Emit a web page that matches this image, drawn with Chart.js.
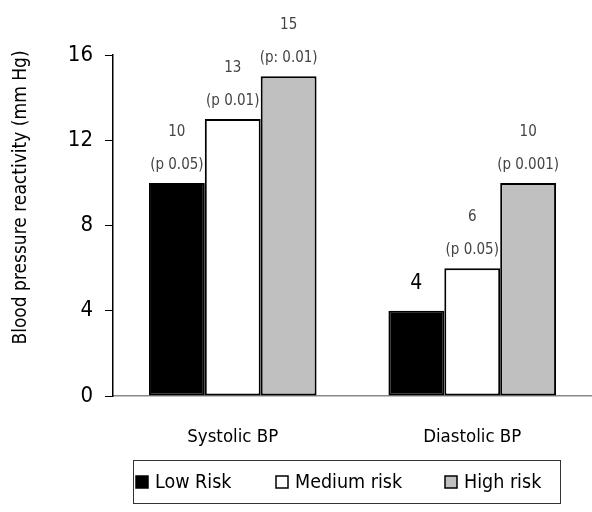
<!DOCTYPE html>
<html>
<head>
<meta charset="utf-8">
<script src="https://cdn.jsdelivr.net/npm/chart.js@4"></script>
<style>
  html, body { margin: 0; padding: 0; background: #fff; }
  #wrap { width: 592px; height: 512px; }
</style>
</head>
<body>
<div id="wrap"><canvas id="chart" width="592" height="512"></canvas></div>
<script>
const FONT = "'DejaVu Sans Condensed', 'Liberation Sans Narrow', sans-serif";

// Data
const categories = ['Systolic BP', 'Diastolic BP'];
const seriesNames = ['Low Risk', 'Medium risk', 'High risk'];
const lowRisk = [10, 4];
const mediumRisk = [13, 6];
const highRisk = [15, 10];
const pLow = ['(p 0.05)', null];
const pMedium = ['(p 0.01)', '(p 0.05)'];
const pHigh = ['(p: 0.01)', '(p 0.001)'];
const yTicks = [0, 4, 8, 12, 16];
const yTitle = 'Blood pressure reactivity (mm Hg)';

const pLabels = [pLow, pMedium, pHigh];
const legendX = [136, 276, 445];

// value + p labels above each bar
const barLabels = {
  id: 'barLabels',
  afterDatasetsDraw(chart) {
    const ctx = chart.ctx;
    ctx.save();
    ctx.textAlign = 'center';
    ctx.textBaseline = 'middle';
    chart.data.datasets.forEach((ds, di) => {
      chart.getDatasetMeta(di).data.forEach((bar, i) => {
        const p = pLabels[di][i];
        if (p) {
          ctx.fillStyle = '#444';
          ctx.font = '15px ' + FONT;
          ctx.fillText(p, bar.x, bar.y - 18);
          ctx.fillText(String(ds.data[i]), bar.x, bar.y - 51);
        } else {
          ctx.fillStyle = '#000';
          ctx.font = '21px ' + FONT;
          ctx.fillText(String(ds.data[i]), bar.x, bar.y - 27);
        }
      });
    });
    ctx.restore();
  }
};

// rotated y title and the framed legend
const extras = {
  id: 'extras',
  afterDraw(chart) {
    const ctx = chart.ctx;
    const a = chart.chartArea;
    ctx.save();
    ctx.translate(21, (a.top + a.bottom) / 2 - 28);
    ctx.rotate(-Math.PI / 2);
    ctx.textAlign = 'center';
    ctx.textBaseline = 'middle';
    ctx.fillStyle = '#000';
    ctx.font = '19px ' + FONT;
    ctx.fillText(yTitle, 0, 0);
    ctx.restore();

    ctx.save();
    ctx.strokeStyle = '#333';
    ctx.lineWidth = 1;
    ctx.strokeRect(133.5, 460.5, 427, 43);
    ctx.font = '19.5px ' + FONT;
    ctx.textBaseline = 'middle';
    chart.data.datasets.forEach((d, i) => {
      const x = legendX[i];
      ctx.fillStyle = d.backgroundColor;
      ctx.fillRect(x, 476, 12, 12);
      ctx.strokeStyle = '#000';
      ctx.lineWidth = 1.5;
      ctx.strokeRect(x, 476, 12, 12);
      ctx.fillStyle = '#000';
      ctx.fillText(d.label, x + 19, 483);
    });
    ctx.restore();
  }
};

new Chart(document.getElementById('chart'), {
  type: 'bar',
  data: {
    labels: categories,
    datasets: [
      { label: seriesNames[0], data: lowRisk, backgroundColor: '#000000' },
      { label: seriesNames[1], data: mediumRisk, backgroundColor: '#ffffff' },
      { label: seriesNames[2], data: highRisk, backgroundColor: '#c0c0c0' }
    ].map(d => Object.assign(d, {
      borderColor: '#000', borderWidth: 2, borderSkipped: false,
      categoryPercentage: 0.7, barPercentage: 1.0
    }))
  },
  options: {
    responsive: false,
    animation: false,
    layout: { padding: { top: 55, right: 0, bottom: 56, left: 0 } },
    plugins: {
      tooltip: { enabled: false },
      legend: { display: false }
    },
    scales: {
      x: {
        grid: { display: false },
        border: { display: true, color: '#888', width: 1.5 },
        ticks: { color: '#000', font: { family: FONT, size: 18.5 }, padding: 22 },
        afterFit(s) { s.height = 60; }
      },
      y: {
        min: 0, max: 16,
        afterBuildTicks(s) { s.ticks = yTicks.map(v => ({ value: v })); },
        grid: { drawOnChartArea: false, color: '#000', tickLength: 8 },
        border: { color: '#000', width: 1.5 },
        ticks: { color: '#000', font: { family: FONT, size: 22 }, padding: 12 },
        afterFit(s) { s.width = 113; }
      }
    }
  },
  plugins: [barLabels, extras]
});
</script>
</body>
</html>
